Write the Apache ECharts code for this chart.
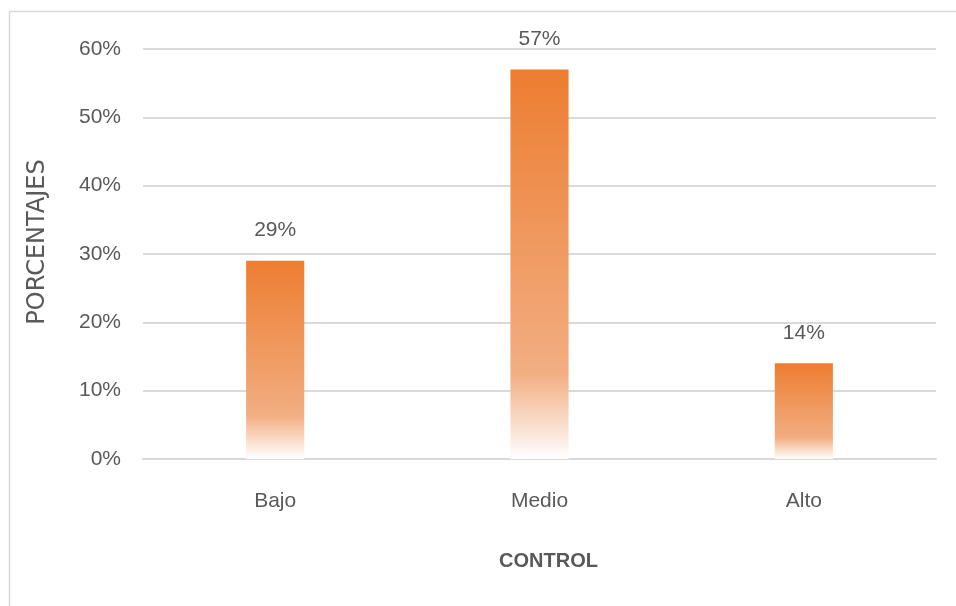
<!DOCTYPE html>
<html><head><meta charset="utf-8">
<script src="https://cdn.jsdelivr.net/npm/echarts@6/dist/echarts.min.js"></script>
<style>html,body{margin:0;padding:0;background:#fff}#c{width:956px;height:606px}</style>
</head><body><div id="c"></div>
<script>
const categories = ['Bajo', 'Medio', 'Alto'];
const values = [29, 57, 14];
const yTicks = [0, 10, 20, 30, 40, 50, 60];

const chart = echarts.init(document.getElementById('c'));
const font = '"Liberation Sans Narrow", "Liberation Sans", sans-serif';
chart.setOption({
  animation: false,
  backgroundColor: '#fff',
  graphic: [
    {type: 'rect', shape: {x: 9.5, y: 11.5, width: 1000, height: 700}, style: {fill: 'none', stroke: '#D9D9D9', lineWidth: 1.5}, silent: true, z: -1},
    {type: 'text', x: 38, y: 242, rotation: Math.PI / 2, style: {text: 'PORCENTAJES', fill: '#595959', fontSize: 24, fontFamily: 'DejaVu Sans', align: 'center', verticalAlign: 'middle'}}
  ],
  grid: {left: 143, right: 20, top: 49, bottom: 147},
  xAxis: {
    type: 'category',
    data: categories,
    name: 'CONTROL',
    nameLocation: 'middle',
    nameGap: 92,
    nameTextStyle: {color: '#595959', fontSize: 20, fontWeight: 'bold', fontFamily: font, padding: [0, 0, 0, 18]},
    axisLine: {lineStyle: {color: '#D9D9D9', width: 2}},
    axisTick: {show: false},
    axisLabel: {color: '#595959', fontSize: 21, fontFamily: font, margin: 32}
  },
  yAxis: {
    type: 'value',
    min: yTicks[0],
    max: yTicks[yTicks.length - 1],
    interval: 10,
    axisLine: {show: false},
    axisTick: {show: false},
    splitLine: {lineStyle: {color: '#D9D9D9', width: 2}},
    axisLabel: {color: '#595959', fontSize: 21, fontFamily: font, margin: 22, formatter: '{value}%'}
  },
  series: [{
    type: 'bar',
    data: values,
    barWidth: '22%',
    itemStyle: {
      color: new echarts.graphic.LinearGradient(0, 0, 0, 1, [
        {offset: 0, color: '#ED7D31'},
        {offset: 0.78, color: '#F2AE82'},
        {offset: 1, color: '#FFFFFF'}
      ])
    },
    label: {show: true, position: 'top', distance: 20, color: '#595959', fontSize: 21, fontFamily: font, formatter: '{c}%'}
  }]
});
</script></body></html>
